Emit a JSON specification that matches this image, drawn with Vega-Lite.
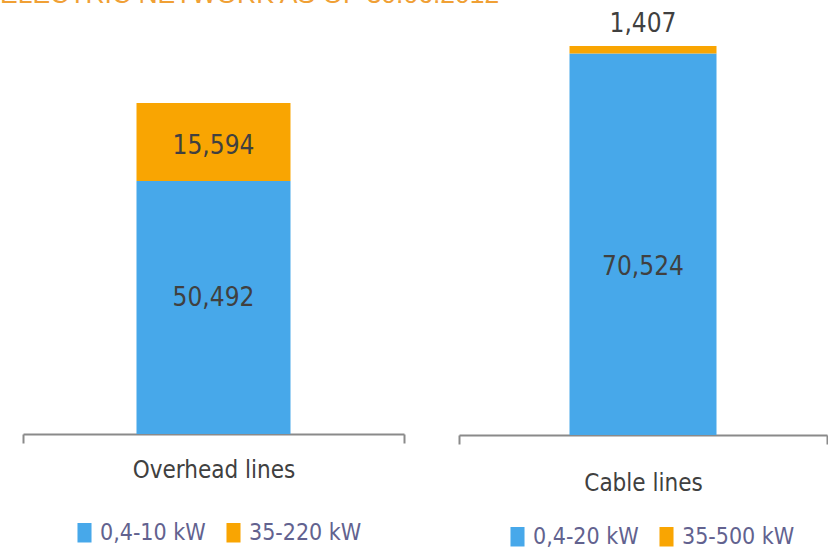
{
  "$schema": "https://vega.github.io/schema/vega-lite/v6.json",
  "padding": {"left": 0, "top": -19, "right": 0, "bottom": 0},
  "background": "white",
  "title": {
    "text": "ELECTRIC NETWORK AS OF 30.06.2012",
    "anchor": "start",
    "color": "#F0A035",
    "fontSize": 26.5,
    "font": "Liberation Sans",
    "fontWeight": "normal",
    "offset": 0,
    "dx": -22
  },
  "data": {
    "values": [
      {"line": "Overhead lines", "voltage": "0,4-10 kW", "km": 50492},
      {"line": "Overhead lines", "voltage": "35-220 kW", "km": 15594},
      {"line": "Cable lines", "voltage": "0,4-20 kW", "km": 70524},
      {"line": "Cable lines", "voltage": "35-500 kW", "km": 1407}
    ]
  },
  "spacing": 53,
  "hconcat": [
    {
      "width": 381,
      "height": 426,
      "transform": [
        {"filter": "datum.line === 'Overhead lines'"},
        {"stack": "km", "groupby": ["line"], "sort": [{"field": "voltage"}], "as": ["s0", "s1"]}
      ],
      "encoding": {
        "x": {
          "field": "line",
          "type": "nominal",
          "scale": {"paddingInner": 0, "paddingOuter": 0},
          "axis": {
            "labels": false,
            "tickBand": "extent",
            "title": "Overhead lines",
            "titlePadding": 14
          }
        }
      },
      "layer": [
        {
          "mark": {"type": "bar", "width": 154},
          "encoding": {
            "y": {"field": "s0", "type": "quantitative", "scale": {"domain": [0, 85050], "nice": false}, "axis": null},
            "y2": {"field": "s1"},
            "color": {
              "field": "voltage",
              "type": "nominal",
              "scale": {"domain": ["0,4-10 kW", "35-220 kW"], "range": ["#47A8EA", "#F9A502"]},
              "legend": {"legendX": 50, "legendY": 513}
            }
          }
        },
        {
          "mark": {"type": "text", "dy": 117},
          "transform": [{"filter": "datum.voltage === '0,4-10 kW'"}],
          "encoding": {
            "y": {"field": "s1", "type": "quantitative"},
            "text": {"field": "km", "type": "quantitative", "format": ","}
          }
        },
        {
          "mark": {"type": "text", "dy": 43},
          "transform": [{"filter": "datum.voltage === '35-220 kW'"}],
          "encoding": {
            "y": {"field": "s1", "type": "quantitative"},
            "text": {"field": "km", "type": "quantitative", "format": ","}
          }
        }
      ]
    },
    {
      "width": 368,
      "height": 427,
      "transform": [
        {"filter": "datum.line === 'Cable lines'"},
        {"stack": "km", "groupby": ["line"], "sort": [{"field": "voltage"}], "as": ["s0", "s1"]}
      ],
      "encoding": {
        "x": {
          "field": "line",
          "type": "nominal",
          "scale": {"paddingInner": 0, "paddingOuter": 0},
          "axis": {
            "labels": false,
            "tickBand": "extent",
            "title": "Cable lines",
            "titlePadding": 26
          }
        }
      },
      "layer": [
        {
          "mark": {"type": "bar", "width": 147},
          "encoding": {
            "y": {"field": "s0", "type": "quantitative", "scale": {"domain": [0, 78957], "nice": false}, "axis": null},
            "y2": {"field": "s1"},
            "color": {
              "field": "voltage",
              "type": "nominal",
              "scale": {"domain": ["0,4-20 kW", "35-500 kW"], "range": ["#47A8EA", "#F9A502"]},
              "legend": {"legendX": 47, "legendY": 517}
            }
          }
        },
        {
          "mark": {"type": "text", "dy": 213},
          "transform": [{"filter": "datum.voltage === '0,4-20 kW'"}],
          "encoding": {
            "y": {"field": "s1", "type": "quantitative"},
            "text": {"field": "km", "type": "quantitative", "format": ","}
          }
        },
        {
          "mark": {"type": "text", "dy": -22},
          "transform": [{"filter": "datum.voltage === '35-500 kW'"}],
          "encoding": {
            "y": {"field": "s1", "type": "quantitative"},
            "text": {"field": "km", "type": "quantitative", "format": ","}
          }
        }
      ]
    }
  ],
  "resolve": {"scale": {"color": "independent", "y": "independent"}, "legend": {"color": "independent"}},
  "config": {
    "view": {"stroke": null},
    "text": {"font": "DejaVu Sans Condensed", "fontSize": 26, "color": "#404040", "baseline": "middle"},
    "axis": {
      "domainColor": "#8A8A8A",
      "domainWidth": 2,
      "tickColor": "#8A8A8A",
      "tickWidth": 2,
      "tickSize": 9,
      "titleFont": "DejaVu Sans Condensed",
      "titleFontSize": 24,
      "titleFontWeight": "normal",
      "titleColor": "#404040",
      "grid": false
    },
    "legend": {
      "orient": "none",
      "direction": "horizontal",
      "title": null,
      "labelFont": "DejaVu Sans Condensed",
      "labelFontSize": 23,
      "labelColor": "#62628F",
      "symbolType": "M-0.72,-1L0.72,-1L0.72,1L-0.72,1Z",
      "symbolSize": 380,
      "symbolStrokeWidth": 0,
      "symbolOpacity": 1,
      "labelOffset": 4,
      "columnPadding": 16
    }
  }
}
